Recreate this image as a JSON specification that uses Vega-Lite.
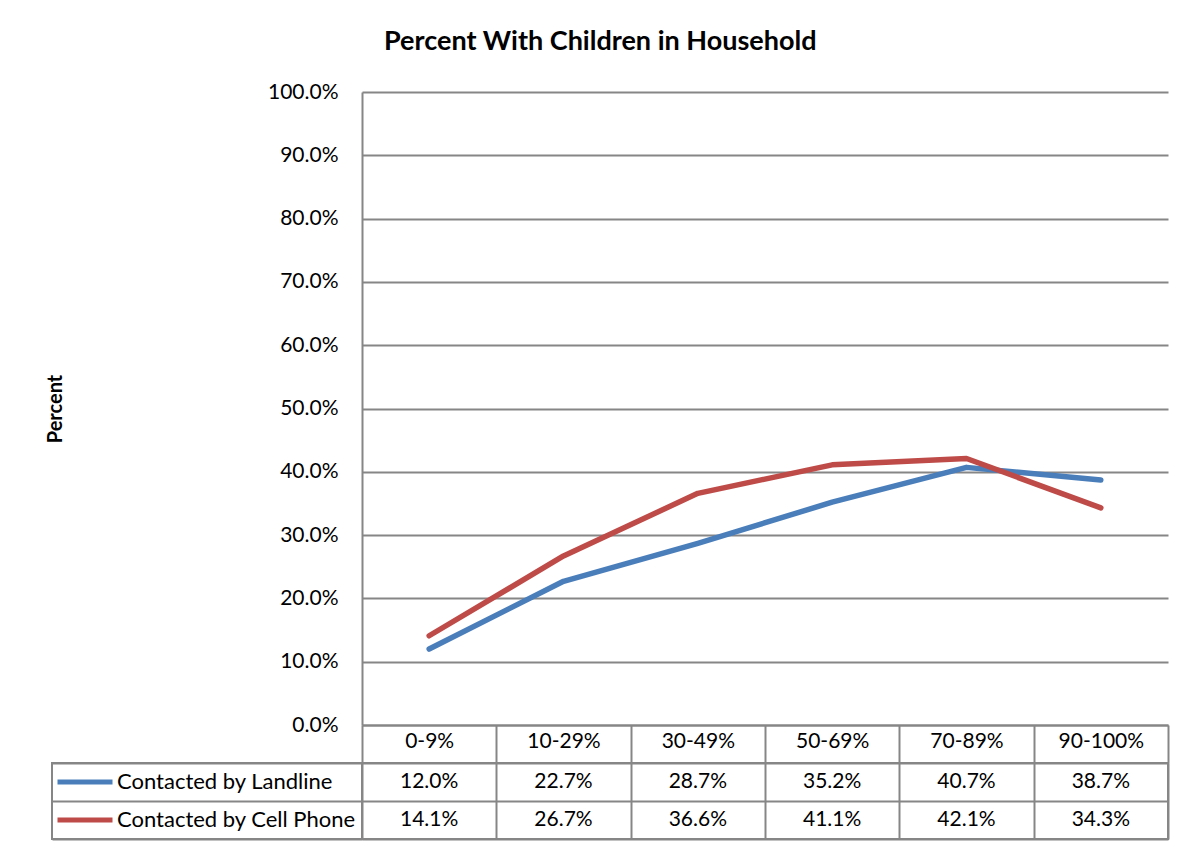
{
  "$schema": "https://vega.github.io/schema/vega-lite/v6.json",
  "padding": {"left": 45, "top": 28, "right": 20, "bottom": 5},
  "background": "white",
  "title": {"text": "Percent With Children in Household", "font": "Lato", "fontSize": 27, "fontWeight": "bold", "color": "black", "anchor": "middle", "offset": 25, "dx": -7},
  "config": {"font": "Lato", "view": {"stroke": null}},
  "datasets": {
    "d": [
      {"range": "0-9%", "series": "Contacted by Landline", "value": 0.120},
      {"range": "10-29%", "series": "Contacted by Landline", "value": 0.227},
      {"range": "30-49%", "series": "Contacted by Landline", "value": 0.287},
      {"range": "50-69%", "series": "Contacted by Landline", "value": 0.352},
      {"range": "70-89%", "series": "Contacted by Landline", "value": 0.407},
      {"range": "90-100%", "series": "Contacted by Landline", "value": 0.387},
      {"range": "0-9%", "series": "Contacted by Cell Phone", "value": 0.141},
      {"range": "10-29%", "series": "Contacted by Cell Phone", "value": 0.267},
      {"range": "30-49%", "series": "Contacted by Cell Phone", "value": 0.366},
      {"range": "50-69%", "series": "Contacted by Cell Phone", "value": 0.411},
      {"range": "70-89%", "series": "Contacted by Cell Phone", "value": 0.421},
      {"range": "90-100%", "series": "Contacted by Cell Phone", "value": 0.343}
    ]
  },
  "columns": 2,
  "bounds": "flush",
  "spacing": {"row": 38, "column": 0},
  "concat": [
    {
      "width": 310, "height": 633,
      "data": {"name": "d"},
      "mark": {"type": "text", "text": ""},
      "encoding": {}
    },
    {
      "width": 806, "height": 633,
      "data": {"name": "d"},
      "mark": {"type": "line", "strokeWidth": 5.5, "strokeCap": "round", "strokeJoin": "round"},
      "encoding": {
        "x": {
          "field": "range", "type": "nominal", "sort": null, "bandPosition": 0.5,
          "scale": {"type": "band", "paddingInner": 0, "paddingOuter": 0, "domain": ["0-9%", "10-29%", "30-49%", "50-69%", "70-89%", "90-100%"]},
          "axis": {"title": null, "orient": "bottom", "labelAngle": 0, "labelFontSize": 21, "labelColor": "black", "labelPadding": -33, "labelBaseline": "top", "ticks": true, "tickBand": "extent", "tickSize": 38, "tickColor": "#868686", "tickWidth": 2, "domainColor": "#868686", "domainWidth": 2, "grid": false}
        },
        "y": {
          "field": "value", "type": "quantitative",
          "scale": {"domain": [0, 1], "nice": false},
          "axis": {"values": [0, 0.1, 0.2, 0.3, 0.4, 0.5, 0.6, 0.7, 0.8, 0.9, 1], "format": ".1%", "title": "Percent", "titleFontSize": 20, "titleFontWeight": "bold", "titleColor": "black", "titlePadding": 202, "labelFontSize": 21, "labelColor": "black", "labelPadding": 24, "ticks": false, "grid": true, "gridColor": "#868686", "gridWidth": 2, "domainColor": "#868686", "domainWidth": 2}
        },
        "color": {
          "field": "series", "type": "nominal",
          "scale": {"domain": ["Contacted by Landline", "Contacted by Cell Phone"], "range": ["#4A7EBB", "#BE4B48"]},
          "legend": {"title": null, "orient": "none", "legendX": 3, "legendY": 671, "direction": "vertical", "symbolType": "stroke", "symbolSize": 3025, "symbolStrokeWidth": 5, "labelFontSize": 22, "labelColor": "black", "labelOffset": 2, "rowPadding": 0, "clipHeight": 38, "padding": 0, "labelLimit": 400}
        }
      }
    },
    {
      "width": 310, "height": 76,
      "data": {"name": "d"},
      "mark": {"type": "text", "text": ""},
      "encoding": {
        "y": {
          "field": "series", "type": "nominal", "sort": null, "bandPosition": 0.5,
          "scale": {"type": "band", "paddingInner": 0, "paddingOuter": 0, "domain": ["Contacted by Landline", "Contacted by Cell Phone"]},
          "axis": {"title": null, "labels": false, "ticks": false, "domain": false, "grid": true, "tickBand": "extent", "gridColor": "#868686", "gridWidth": 2}
        }
      },
      "view": {"stroke": "#868686", "strokeWidth": 2}
    },
    {
      "width": 806, "height": 76,
      "data": {"name": "d"},
      "mark": {"type": "text", "fontSize": 21, "color": "black"},
      "encoding": {
        "x": {
          "field": "range", "type": "nominal", "sort": null, "bandPosition": 0.5,
          "scale": {"type": "band", "paddingInner": 0, "paddingOuter": 0, "domain": ["0-9%", "10-29%", "30-49%", "50-69%", "70-89%", "90-100%"]},
          "axis": {"title": null, "labels": false, "ticks": false, "domain": false, "grid": true, "tickBand": "extent", "gridColor": "#868686", "gridWidth": 2}
        },
        "y": {
          "field": "series", "type": "nominal", "sort": null, "bandPosition": 0.5,
          "scale": {"type": "band", "paddingInner": 0, "paddingOuter": 0, "domain": ["Contacted by Landline", "Contacted by Cell Phone"]},
          "axis": {"title": null, "labels": false, "ticks": false, "domain": false, "grid": true, "tickBand": "extent", "gridColor": "#868686", "gridWidth": 2}
        },
        "text": {"field": "value", "type": "quantitative", "format": ".1%"}
      },
      "view": {"stroke": "#868686", "strokeWidth": 2}
    }
  ]
}
